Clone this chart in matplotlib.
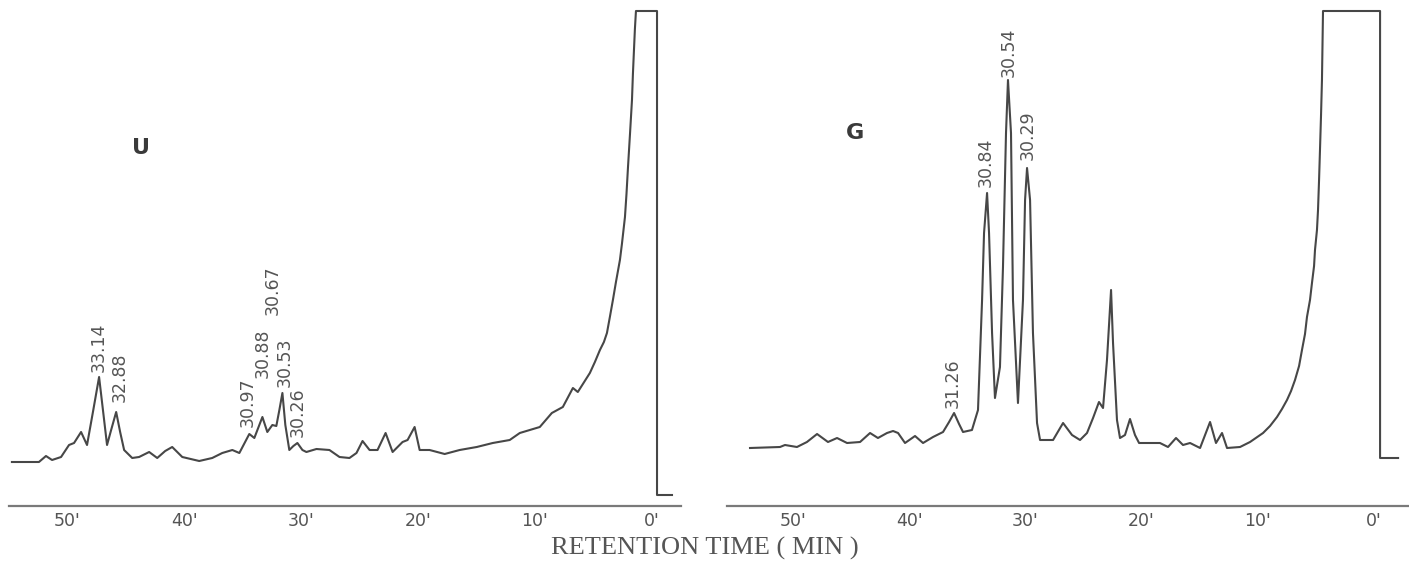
import matplotlib.pyplot as plt

# retention time (min) and detector response (arbitrary units)
u_time = [54.71, 53.51, 52.40, 51.80, 51.28, 50.51, 49.83, 49.40, 48.80, 48.29,
          47.77, 47.26, 46.92, 46.58, 46.23, 45.80, 45.46, 45.12, 44.43, 43.84,
          42.98, 42.29, 41.61, 41.01, 40.15, 38.70, 37.59, 36.73, 35.87, 35.27,
          34.42, 33.99, 33.30, 32.88, 32.45, 32.11, 31.85, 31.59, 31.34, 31.00,
          30.65, 30.31, 29.88, 29.54, 28.68, 27.57, 26.71, 25.86, 25.26, 24.74,
          24.14, 23.46, 22.77, 22.17, 21.32, 20.89, 20.29, 19.86, 19.01, 17.72,
          16.44, 14.98, 13.61, 12.16, 11.30, 9.59, 8.56, 7.62, 6.76, 6.34,
          5.31, 4.88, 4.45, 4.11, 3.85, 3.60, 3.34, 3.08, 2.74, 2.57,
          2.31, 2.18, 2.05, 1.88, 1.71, 1.63, 1.54, 1.46, 1.37,
          -0.43, -0.43, -1.71]
u_resp = [44, 44, 44, 50, 46, 49, 61, 63, 74, 61,
          95, 129, 95, 61, 76, 94, 74, 56, 48, 49,
          54, 48, 55, 59, 49, 45, 48, 53, 56, 53,
          72, 68, 89, 74, 81, 80, 96, 113, 81, 56,
          60, 63, 56, 54, 57, 56, 49, 48, 53, 65,
          56, 56, 73, 54, 64, 66, 79, 56, 56, 52,
          56, 59, 63, 66, 73, 79, 93, 99, 118, 114,
          133, 144, 156, 164, 173, 189, 206, 224, 246, 262,
          289, 312, 339, 372, 406, 432, 456, 477, 495,
          495, 11, 11]

g_time = [53.70, 51.12, 50.69, 49.66, 48.80, 47.93, 46.99, 46.21, 45.35, 44.23,
          43.37, 42.69, 41.91, 41.39, 40.96, 40.36, 39.50, 38.81, 37.95, 37.09,
          36.57, 36.14, 35.71, 35.37, 34.60, 34.08, 33.73, 33.56, 33.30, 33.13,
          32.87, 32.62, 32.19, 31.93, 31.67, 31.50, 31.24, 31.07, 30.64, 30.21,
          30.03, 29.86, 29.60, 29.35, 29.00, 28.74, 27.62, 26.76, 25.99, 25.30,
          24.70, 24.18, 23.67, 23.32, 22.98, 22.63, 22.46, 22.12, 21.86, 21.43,
          21.00, 20.57, 20.22, 19.54, 18.42, 17.73, 17.04, 16.44, 15.83, 14.97,
          14.11, 13.60, 13.08, 12.65, 11.53, 10.67, 9.55, 8.95, 8.35, 7.92,
          7.49, 7.14, 6.80, 6.45, 6.20, 5.94, 5.77, 5.51, 5.34, 5.16,
          5.08, 4.91, 4.82, 4.73, 4.65, 4.56, 4.48, 4.39,
          -0.52, -0.52, -2.07]
g_resp = [58, 59, 61, 59, 64, 72, 64, 68, 63, 64,
          73, 68, 73, 75, 73, 63, 70, 63, 69, 74,
          84, 93, 82, 74, 76, 96, 206, 273, 313, 273,
          173, 108, 139, 239, 373, 426, 373, 206, 103, 206,
          306, 338, 306, 173, 83, 66, 66, 83, 71, 66,
          73, 88, 104, 98, 146, 216, 163, 86, 68, 71,
          87, 71, 63, 63, 63, 59, 68, 61, 63, 58,
          84, 63, 73, 58, 59, 64, 73, 80, 89, 97,
          106, 115, 126, 140, 156, 172, 189, 206, 223, 240,
          256, 276, 296, 326, 356, 391, 426, 495,
          495, 48, 48]

tick_vals = [50, 40, 30, 20, 10, 0]
tick_labels = ["50'", "40'", "30'", "20'", "10'", "0'"]

u_peaks = ['33.14', '32.88', '30.97', '30.88', '30.67', '30.53', '30.26']
u_peak_t = [47.26, 45.46, 34.59, 33.30, 32.45, 31.42, 30.31]
u_peak_y = [134, 104, 79, 128, 191, 119, 69]

g_peaks = ['30.84', '30.54', '30.29', '31.26']
g_peak_t = [33.39, 31.41, 29.78, 36.23]
g_peak_y = [319, 429, 346, 98]

line_col = '#474747'
text_col = '#555555'
sans = 'DejaVu Sans'

fig = plt.figure(figsize=(14.09, 5.61), dpi=100)
ax_u = fig.add_axes([9 / 1409, 55 / 561, 672 / 1409, 506 / 561])
ax_g = fig.add_axes([727 / 1409, 55 / 561, 682 / 1409, 506 / 561])


def style(ax, xlim):
    ax.set_xlim(*xlim)
    ax.set_ylim(0, 506)
    for s in ['top', 'left', 'right']:
        ax.spines[s].set_visible(False)
    ax.spines['bottom'].set_color('#7a7a7a')
    ax.spines['bottom'].set_linewidth(1.6)
    ax.set_yticks([])
    ax.set_xticks(tick_vals)
    ax.set_xticklabels(tick_labels, family=sans, fontsize=12.5, color=text_col)
    ax.tick_params(axis='x', length=0, pad=4)
    ax.patch.set_alpha(0)


ax_u.plot(u_time, u_resp, color=line_col, lw=1.5, solid_joinstyle='round')
style(ax_u, (54.96, -2.48))
for lab, t, y in zip(u_peaks, u_peak_t, u_peak_y):
    ax_u.text(t, y, lab, rotation=90, ha='center', va='bottom',
              family=sans, fontsize=12.5, color=text_col)
ax_u.text(43.66, 358, 'U', ha='center', va='center', family=sans,
          fontsize=16, fontweight='bold', color='#3a3a3a')

ax_g.plot(g_time, g_resp, color=line_col, lw=1.5, solid_joinstyle='round')
style(ax_g, (55.68, -3.01))
for lab, t, y in zip(g_peaks, g_peak_t, g_peak_y):
    ax_g.text(t, y, lab, rotation=90, ha='center', va='bottom',
              family=sans, fontsize=12.5, color=text_col)
ax_g.text(44.66, 373, 'G', ha='center', va='center', family=sans,
          fontsize=16, fontweight='bold', color='#3a3a3a')

fig.text(705 / 1409, 13 / 561, 'RETENTION TIME ( MIN )', ha='center', va='center',
         family=['Liberation Serif', 'DejaVu Serif'], fontsize=19, color=text_col)

fig.savefig('out.png', dpi=100)
